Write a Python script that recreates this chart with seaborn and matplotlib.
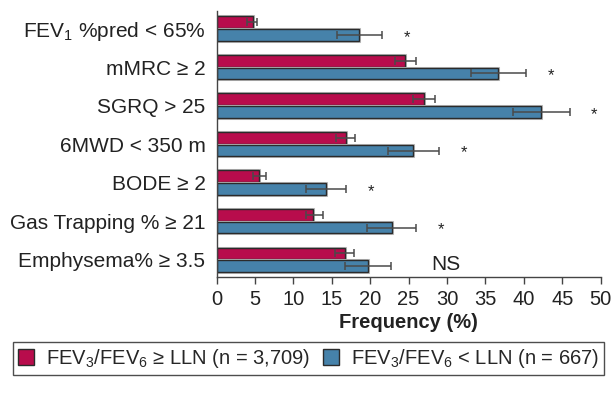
import numpy as np
import pandas as pd
import seaborn as sns
import matplotlib as mpl
from matplotlib import pyplot as plt
from matplotlib.patches import Patch
import matplotlib.patheffects as pe

# Data
categories = ["FEV$_1$ %pred < 65%", "mMRC \u2265 2", "SGRQ > 25", "6MWD < 350 m",
              "BODE \u2265 2", "Gas Trapping % \u2265 21", "Emphysema% \u2265 3.5"]
groups = ["FEV$_3$/FEV$_6$ \u2265 LLN (n = 3,709)", "FEV$_3$/FEV$_6$ < LLN (n = 667)"]
normal_vals = [4.7, 24.5, 27.0, 16.8, 5.5, 12.6, 16.7]
normal_lo = [4.0, 23.2, 25.6, 15.5, 4.8, 11.6, 15.4]
normal_hi = [5.3, 25.9, 28.4, 18.0, 6.4, 13.8, 17.9]
low_vals = [18.6, 36.7, 42.2, 25.6, 14.2, 22.8, 19.7]
low_lo = [15.7, 33.1, 38.6, 22.3, 11.6, 19.6, 16.7]
low_hi = [21.6, 40.3, 46.0, 29.0, 16.9, 26.0, 22.7]
signif = ["*", "*", "*", "*", "*", "*", "NS"]

colors = ["#B80C4C", "#4682AA"]
edge = "#2b2b2b"

sns.set_style("white")
plt.rcParams['font.family'] = ['Liberation Sans', 'DejaVu Sans']
plt.rcParams['mathtext.fontset'] = 'custom'
plt.rcParams['mathtext.rm'] = 'Liberation Sans'
plt.rcParams['mathtext.it'] = 'Liberation Sans'

df = pd.DataFrame({
    'cat': categories * 2,
    'group': [groups[0]] * len(categories) + [groups[1]] * len(categories),
    'val': normal_vals + low_vals,
})

fig = plt.figure(figsize=(6.11, 4.01), dpi=100)
ax = fig.add_axes([0.3545, 0.308, 0.6285, 0.665])

sns.barplot(data=df, y='cat', x='val', hue='group', orient='h',
            palette=colors, saturation=1, width=0.66, gap=0.08, errorbar=None,
            edgecolor=edge, linewidth=1.0, legend=False, ax=ax)
# light grey halo around each bar, as in the print figure
for p in ax.patches:
    p.set_path_effects([pe.Stroke(linewidth=2.2, foreground='#bdbdbd'), pe.Normal()])

# Error bars
errs = [(normal_vals, normal_lo, normal_hi), (low_vals, low_lo, low_hi)]
for cont, (v, lo, hi) in zip(ax.containers, errs):
    ys = [b.get_y() + b.get_height() / 2 for b in cont]
    v = np.array(v)
    xerr = np.vstack([v - np.array(lo), np.array(hi) - v])
    ax.errorbar(v, ys, xerr=xerr, fmt='none', ecolor='#4a4a4a',
                elinewidth=1.1, capsize=2.8, capthick=1.1)

# Significance marks
blue_ys = [b.get_y() + b.get_height() / 2 for b in ax.containers[1]]
for y, hi, s in zip(blue_ys, low_hi, signif):
    if s == '*':
        ax.text(hi + 3.2, y + 0.06, s, ha='center', va='center',
                fontsize=12, color='#222222')
    else:
        ax.text(hi + 5.2, y - 0.03, s, ha='left', va='center',
                fontsize=15, color='#222222')

ax.set_xlim(0, 50)
ax.set_ylim(6.46, -0.46)
ax.set_xticks(np.arange(0, 51, 5))
ax.set_xlabel('Frequency (%)', fontsize=14.5, fontweight='bold',
              color='#222222', labelpad=3)
ax.set_ylabel('')
for side in ['top', 'right']:
    ax.spines[side].set_visible(False)
for side in ['left', 'bottom']:
    ax.spines[side].set_color('#444444')
    ax.spines[side].set_linewidth(1.0)
ax.tick_params(axis='x', length=5, width=1.0, color='#444444',
               labelsize=14.5, labelcolor='#222222', pad=4, direction='out',
               bottom=True)
ax.tick_params(axis='y', length=0, labelsize=15, labelcolor='#222222', pad=8)

# Legend
handles = [Patch(facecolor=c, edgecolor=edge, linewidth=1.0, label=g)
           for c, g in zip(colors, groups)]
leg = fig.legend(handles=handles, loc='center', bbox_to_anchor=(0.505, 0.106),
                 ncol=2, frameon=True, fancybox=False, fontsize=14.5,
                 handlelength=0.8, handleheight=0.8, handletextpad=0.6,
                 columnspacing=0.6, borderpad=0.25, borderaxespad=0)
leg.get_frame().set_edgecolor('#222222')
leg.get_frame().set_linewidth(1.0)

plt.savefig('out.png', dpi=100)
